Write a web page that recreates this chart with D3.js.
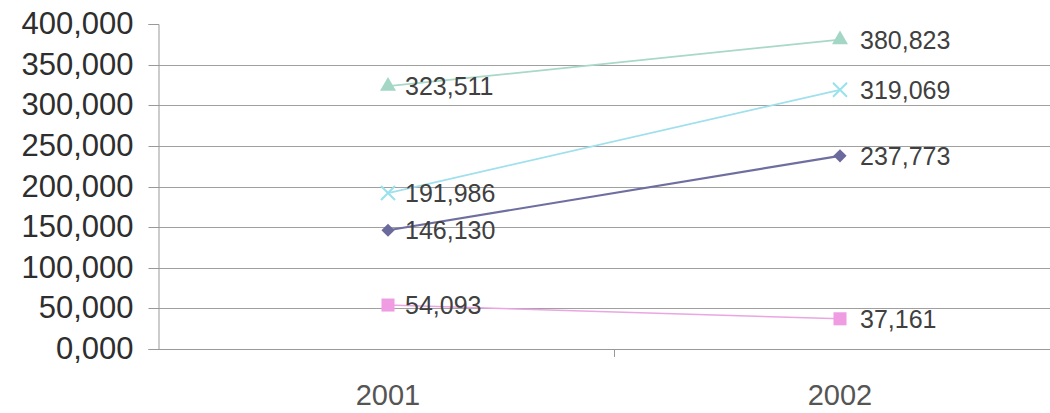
<!DOCTYPE html>
<html><head><meta charset="utf-8">
<script src="https://cdn.jsdelivr.net/npm/d3@7"></script>
<style>html,body{margin:0;padding:0;background:#fff;}svg{display:block;}</style>
</head><body>
<svg id="chart" width="1050" height="413"></svg>
<script>
const categories = ["2001", "2002"];
const seriesTriangle = [323511, 380823];
const seriesCross = [191986, 319069];
const seriesDiamond = [146130, 237773];
const seriesSquare = [54093, 37161];
const yTicks = [0, 50000, 100000, 150000, 200000, 250000, 300000, 350000, 400000];
const yTickLabels = ["0,000", "50,000", "100,000", "150,000", "200,000", "250,000", "300,000", "350,000", "400,000"];

const series = [
  {name: "triangle", values: seriesTriangle, color: "#a3d6c4", line: "#a8d8c8", w: 1.8, sym: d3.symbolTriangle, size: 110},
  {name: "cross", values: seriesCross, color: "#98e2ee", line: "#9fe0ec", w: 1.8, sym: "x", size: 0},
  {name: "diamond", values: seriesDiamond, color: "#6a6a9c", line: "#6e6ea0", w: 2.2, sym: d3.symbolDiamond2, size: 110},
  {name: "square", values: seriesSquare, color: "#ef9ce3", line: "#eaa6e2", w: 1.5, sym: d3.symbolSquare, size: 170}
];

const svg = d3.select("#chart");
const x = d3.scaleBand().domain(categories).range([162, 1066]).padding(0);
const y = d3.scaleLinear().domain([0, 400000]).range([349, 24]);

// gridlines
svg.append("g").selectAll("line").data(yTicks.filter(v => v > 0 && v < 400000)).join("line")
  .attr("x1", 158).attr("x2", 1050)
  .attr("y1", d => Math.round(y(d)) + 0.5).attr("y2", d => Math.round(y(d)) + 0.5)
  .attr("stroke", "#a0a0a0").attr("stroke-width", 1);

// y axis
const yAxis = d3.axisLeft(y).tickValues(yTicks).tickFormat((d, i) => yTickLabels[i]).tickSize(10).tickPadding(15);
const gy = svg.append("g").attr("transform", "translate(158.5,0)").call(yAxis);
gy.select(".domain").attr("stroke", "#999");
gy.selectAll(".tick line").attr("stroke", "#999");
gy.selectAll(".tick text").attr("font-family", "Liberation Sans, Arial, sans-serif").attr("font-size", 31).attr("fill", "#2e2e2e");
gy.selectAll(".tick").attr("transform", d => `translate(0,${Math.round(y(d)) + 0.5})`);

// x axis line
svg.append("line").attr("x1", 158).attr("x2", 1050).attr("y1", 349.5).attr("y2", 349.5).attr("stroke", "#999");
// category separator tick
svg.append("line").attr("x1", x("2002") + 0.5).attr("x2", x("2002") + 0.5).attr("y1", 349).attr("y2", 357).attr("stroke", "#999");
// x labels
svg.append("g").selectAll("text").data(categories).join("text")
  .attr("x", d => x(d) + x.bandwidth() / 2).attr("y", 405)
  .attr("text-anchor", "middle")
  .attr("font-family", "Liberation Sans, Arial, sans-serif").attr("font-size", 29).attr("fill", "#555")
  .text(d => d);

const cx = d => x(d) + x.bandwidth() / 2;
const fmt = d3.format(",");

series.forEach(s => {
  const pts = categories.map((c, i) => ({c, v: s.values[i]}));
  svg.append("path").datum(pts)
    .attr("d", d3.line().x(p => cx(p.c)).y(p => y(p.v)))
    .attr("fill", "none").attr("stroke", s.line).attr("stroke-width", s.w);
  const g = svg.append("g");
  pts.forEach(p => {
    if (s.sym === "x") {
      const r = 7;
      g.append("path").attr("d", `M${cx(p.c) - r},${y(p.v) - r}L${cx(p.c) + r},${y(p.v) + r}M${cx(p.c) - r},${y(p.v) + r}L${cx(p.c) + r},${y(p.v) - r}`)
        .attr("stroke", s.color).attr("stroke-width", 2).attr("fill", "none");
    } else {
      g.append("path").attr("d", d3.symbol().type(s.sym).size(s.size)())
        .attr("transform", `translate(${cx(p.c)},${y(p.v)})`).attr("fill", s.color);
    }
  });
  svg.append("g").selectAll("text").data(pts).join("text")
    .attr("x", (p, i) => cx(p.c) + (i === 0 ? 17 : 20))
    .attr("y", p => y(p.v) + 9)
    .attr("font-family", "Liberation Sans, Arial, sans-serif").attr("font-size", 25).attr("fill", "#404040")
    .text(p => fmt(p.v));
});
</script>
</body></html>
